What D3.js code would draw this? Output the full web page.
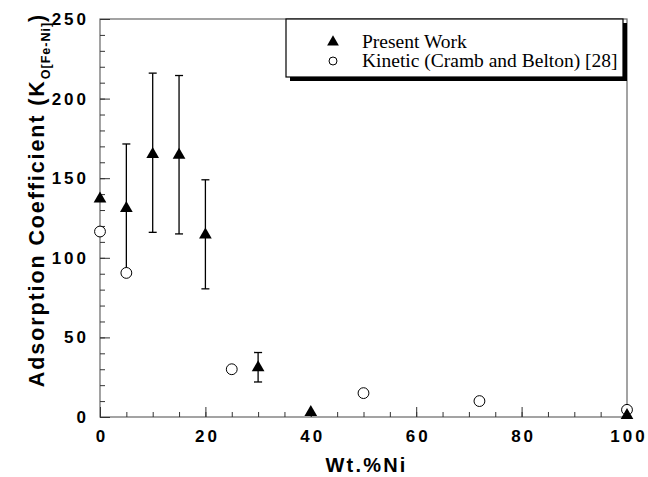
<!DOCTYPE html>
<html>
<head>
<meta charset="utf-8">
<script src="https://cdn.jsdelivr.net/npm/d3@7"></script>
<style>
  body { margin: 0; background: #fff; }
  .tick text { font-family: "Liberation Sans", Arial, sans-serif; font-weight: bold; font-size: 17px; letter-spacing: 3px; fill: #000; }
</style>
</head>
<body>
<div id="chart"></div>
<script>
// Present Work (triangles, with error bars)
const presentX = [0, 5, 10, 15, 20, 30, 40, 100];
const presentY = [137, 131, 165, 164.5, 114.5, 31, 3, 1];
const presentLow = [null, 91, 116, 115, 80.5, 22, null, null];
const presentHigh = [null, 171.5, 216, 214.5, 149, 40.5, null, null];

// Kinetic (Cramb and Belton) [28] (open circles)
const kineticX = [0, 5, 25, 50, 72, 100];
const kineticY = [116.5, 90.5, 30, 15, 10, 4.5];

const xMajor = [0, 20, 40, 60, 80, 100];
const yMajor = [0, 50, 100, 150, 200, 250];
const legendLabels = ["Present Work", "Kinetic (Cramb and Belton) [28]"];

const W = 648, H = 477;
const margin = { top: 19, right: 21, bottom: 60, left: 100 };
const width = W - margin.left - margin.right;
const height = H - margin.top - margin.bottom;

const svg = d3.select("#chart").append("svg")
  .attr("width", W)
  .attr("height", H);

const g = svg.append("g")
  .attr("transform", `translate(${margin.left},${margin.top})`);

const x = d3.scaleLinear().domain([0, 100]).range([0, width]);
const y = d3.scaleLinear().domain([0, 250]).range([height, 0]);

// frame
g.append("rect")
  .attr("x", 0).attr("y", 0)
  .attr("width", width).attr("height", height)
  .attr("fill", "none")
  .attr("stroke", "#666")
  .attr("stroke-width", 1.2);

// minor ticks
g.append("g")
  .attr("transform", `translate(0,${height})`)
  .call(d3.axisBottom(x).tickValues(d3.range(0, 101, 5)).tickSize(-5).tickFormat(""))
  .call(a => a.select(".domain").remove())
  .selectAll("line").attr("stroke", "#333");

g.append("g")
  .call(d3.axisLeft(y).tickValues(d3.range(0, 251, 10)).tickSize(-5).tickFormat(""))
  .call(a => a.select(".domain").remove())
  .selectAll("line").attr("stroke", "#333");

// major ticks with labels
const xAxis = g.append("g")
  .attr("transform", `translate(0,${height})`)
  .call(d3.axisBottom(x).tickValues(xMajor).tickSize(-10).tickPadding(13))
  .call(a => a.select(".domain").remove());
xAxis.selectAll("line").attr("stroke", "#333");
xAxis.selectAll("text").attr("dx", "1.5px");

const yAxis = g.append("g")
  .call(d3.axisLeft(y).tickValues(yMajor).tickSize(-10).tickPadding(14))
  .call(a => a.select(".domain").remove());
yAxis.selectAll("line").attr("stroke", "#333");
yAxis.selectAll("text").attr("dx", "3px");

// axis titles
svg.append("text")
  .attr("x", margin.left + width / 2 + 3)
  .attr("y", 472)
  .attr("text-anchor", "middle")
  .style("font-family", "Liberation Sans, Arial, sans-serif")
  .style("font-weight", "bold")
  .style("font-size", "20px")
  .style("letter-spacing", "2.2px")
  .text("Wt.%Ni");

const yt = svg.append("text")
  .attr("transform", `translate(44,${margin.top + height / 2 - 18}) rotate(-90)`)
  .attr("text-anchor", "middle")
  .style("font-family", "Liberation Sans, Arial, sans-serif")
  .style("font-weight", "bold")
  .style("font-size", "21.5px")
  .style("letter-spacing", "1.9px");
yt.append("tspan").text("Adsorption Coefficient (K");
yt.append("tspan").attr("dy", 6).style("font-size", "12.5px").style("letter-spacing", "1px").text("O[Fe-Ni]");
yt.append("tspan").attr("dy", -6).text(")");

// data
const present = presentX.map((d, i) => ({ x: d, y: presentY[i], lo: presentLow[i], hi: presentHigh[i] }));
const kinetic = kineticX.map((d, i) => ({ x: d, y: kineticY[i] }));

const bars = present.filter(d => d.lo !== null);
const cap = 4;
bars.forEach(d => {
  const eg = g.append("g").attr("stroke", "#000").attr("stroke-width", 1.3);
  eg.append("line").attr("x1", x(d.x)).attr("x2", x(d.x)).attr("y1", y(d.lo)).attr("y2", y(d.hi));
  eg.append("line").attr("x1", x(d.x) - cap).attr("x2", x(d.x) + cap).attr("y1", y(d.hi)).attr("y2", y(d.hi));
  eg.append("line").attr("x1", x(d.x) - cap).attr("x2", x(d.x) + cap).attr("y1", y(d.lo)).attr("y2", y(d.lo));
});

const tri = d3.symbol().type(d3.symbolTriangle).size(70);
const circ = d3.symbol().type(d3.symbolCircle).size(92);

g.selectAll(".kin")
  .data(kinetic)
  .enter()
  .append("path")
  .attr("class", "kin")
  .attr("d", circ)
  .attr("transform", d => `translate(${x(d.x)},${y(d.y)})`)
  .attr("fill", "#fff")
  .attr("stroke", "#000")
  .attr("stroke-width", 1);

g.selectAll(".pres")
  .data(present)
  .enter()
  .append("path")
  .attr("class", "pres")
  .attr("d", tri)
  .attr("transform", d => `translate(${x(d.x)},${y(d.y)})`)
  .attr("fill", "#000");

// legend
const lg = svg.append("g").attr("transform", "translate(286,19)");
lg.append("rect").attr("x", 4).attr("y", 4).attr("width", 337).attr("height", 58).attr("fill", "#000");
lg.append("rect").attr("x", 0).attr("y", 0).attr("width", 337).attr("height", 58)
  .attr("fill", "#fff").attr("stroke", "#000").attr("stroke-width", 1.2);

lg.append("path").attr("d", d3.symbol().type(d3.symbolTriangle).size(60))
  .attr("transform", "translate(47,23)").attr("fill", "#000");
lg.append("path").attr("d", d3.symbol().type(d3.symbolCircle).size(50))
  .attr("transform", "translate(47,42)").attr("fill", "#fff").attr("stroke", "#000");

lg.selectAll(".lt")
  .data(legendLabels)
  .enter()
  .append("text")
  .attr("class", "lt")
  .attr("x", 76)
  .attr("y", (d, i) => 29 + i * 19)
  .style("font-family", "Liberation Serif, Times New Roman, serif")
  .style("font-size", "19.5px")
  .text(d => d);
</script>
</body>
</html>
